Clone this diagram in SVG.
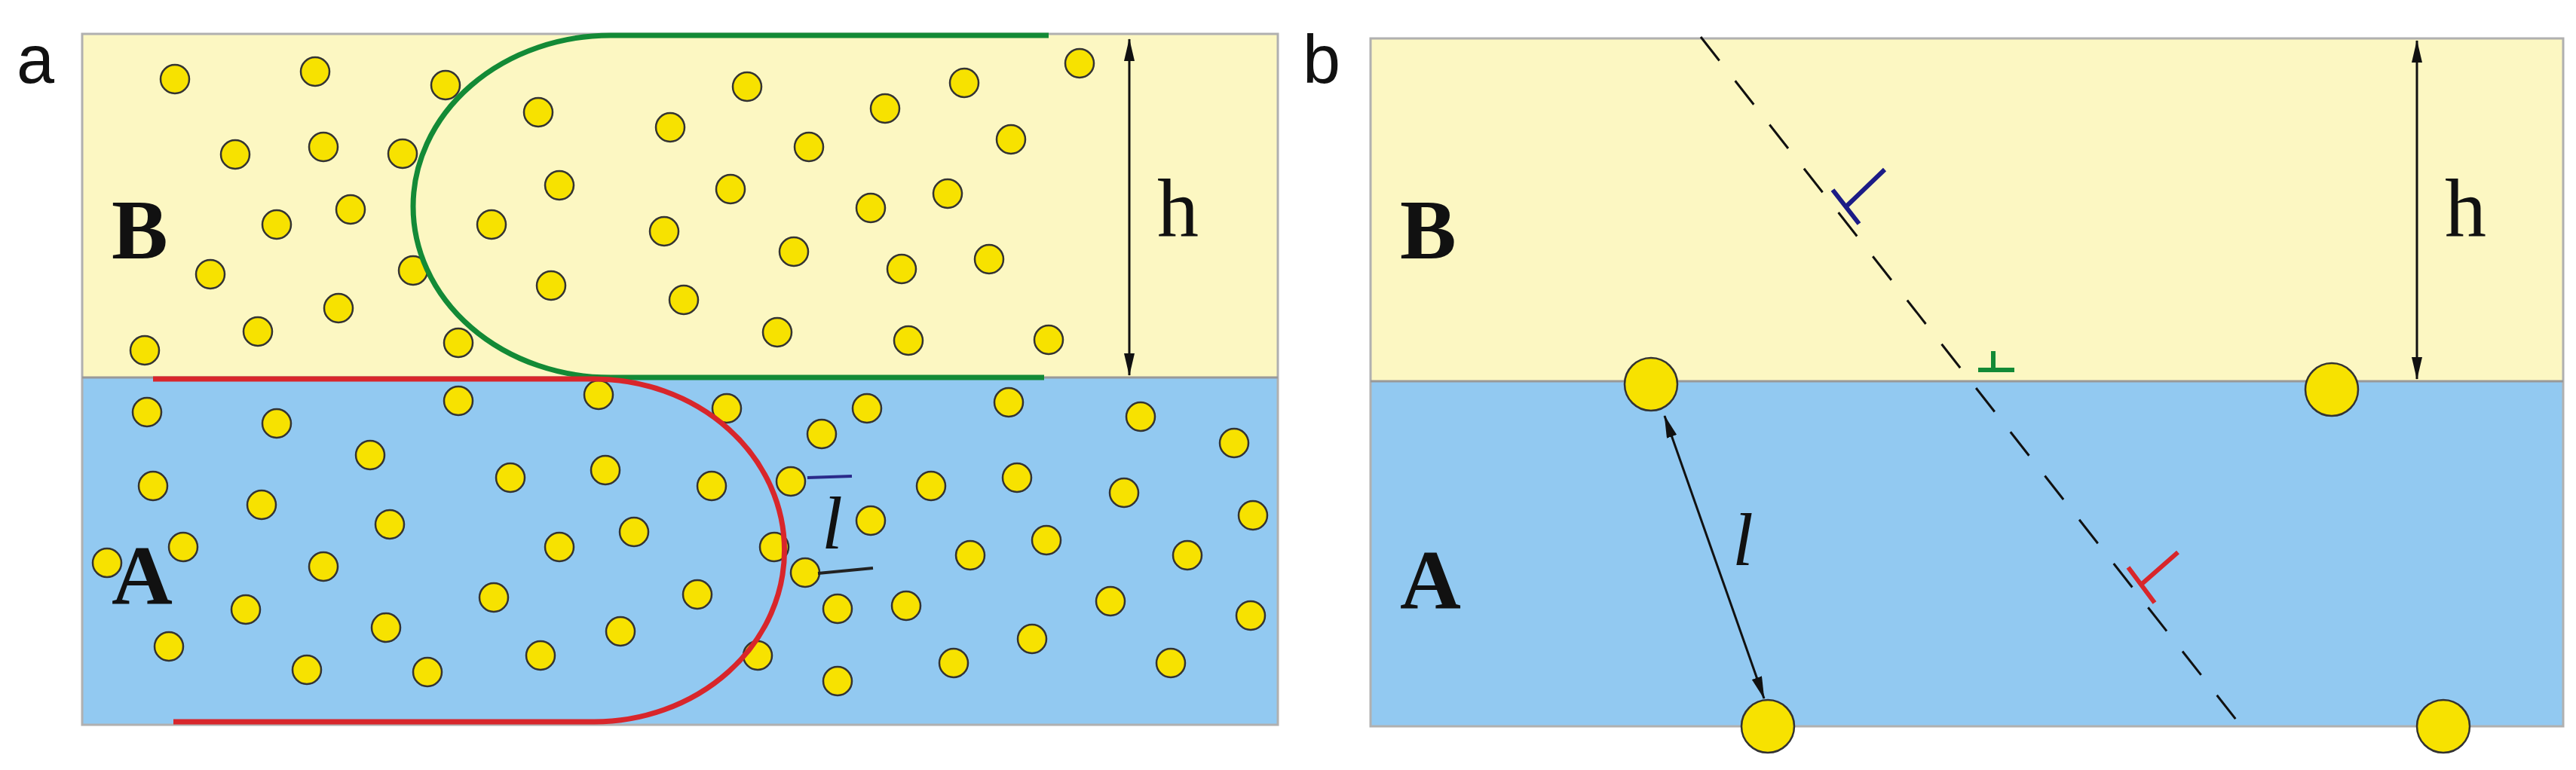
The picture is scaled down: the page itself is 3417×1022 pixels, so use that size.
<svg xmlns="http://www.w3.org/2000/svg" width="3417" height="1022" viewBox="0 0 3417 1022">
<style>
.lbl{font-family:"Liberation Sans",sans-serif;font-size:90px;fill:#111}
.ser{font-family:"Liberation Serif",serif;fill:#111}
.p{fill:#f7e200;stroke:#333;stroke-width:2.5}
.yb{fill:#fcf7c2}
.bb{fill:#92c9f1}
.ar{stroke:#111;stroke-width:3;fill:none}
</style>
<defs>
<marker id="ah" markerWidth="10" markerHeight="24" refX="9" refY="6" orient="auto" markerUnits="userSpaceOnUse" viewBox="0 0 10 12"><path d="M0,2 L10,6 L0,10 Z" fill="#111"/></marker>
<marker id="ah2" viewBox="0 0 30 14" refX="29" refY="7" markerWidth="30" markerHeight="14" orient="auto-start-reverse" markerUnits="userSpaceOnUse"><path d="M0,0 L30,7 L0,14 Z" fill="#111"/></marker>
</defs>
<rect width="3417" height="1022" fill="#fff"/>
<g id="panel-a">
<text class="lbl" x="22" y="110">a</text>
<rect class="yb" x="109" y="45" width="1586" height="456"/>
<rect class="bb" x="109" y="501" width="1586" height="461"/>
<rect x="109" y="45" width="1586" height="917" fill="none" stroke="#b0b0b0" stroke-width="3"/>
<line x1="109" y1="501" x2="1695" y2="501" stroke="#999" stroke-width="3"/>
<g id="particles-a">
<circle class="p" cx="232" cy="105" r="19"/><circle class="p" cx="418" cy="95" r="19"/><circle class="p" cx="591" cy="113" r="19"/><circle class="p" cx="1432" cy="84" r="19"/><circle class="p" cx="991" cy="115" r="19"/><circle class="p" cx="1279" cy="110" r="19"/><circle class="p" cx="714" cy="149" r="19"/><circle class="p" cx="1174" cy="144" r="19"/><circle class="p" cx="889" cy="169" r="19"/><circle class="p" cx="312" cy="205" r="19"/><circle class="p" cx="429" cy="195" r="19"/><circle class="p" cx="534" cy="204" r="19"/><circle class="p" cx="1073" cy="195" r="19"/><circle class="p" cx="1341" cy="185" r="19"/><circle class="p" cx="742" cy="246" r="19"/><circle class="p" cx="969" cy="251" r="19"/><circle class="p" cx="1257" cy="257" r="19"/><circle class="p" cx="465" cy="278" r="19"/><circle class="p" cx="367" cy="298" r="19"/><circle class="p" cx="652" cy="298" r="19"/><circle class="p" cx="1155" cy="276" r="19"/><circle class="p" cx="881" cy="307" r="19"/><circle class="p" cx="548" cy="359" r="19"/><circle class="p" cx="279" cy="364" r="19"/><circle class="p" cx="1053" cy="334" r="19"/><circle class="p" cx="1196" cy="357" r="19"/><circle class="p" cx="1312" cy="344" r="19"/><circle class="p" cx="731" cy="379" r="19"/><circle class="p" cx="449" cy="409" r="19"/><circle class="p" cx="907" cy="398" r="19"/><circle class="p" cx="342" cy="440" r="19"/><circle class="p" cx="608" cy="455" r="19"/><circle class="p" cx="1031" cy="441" r="19"/><circle class="p" cx="1205" cy="452" r="19"/><circle class="p" cx="1391" cy="451" r="19"/><circle class="p" cx="192" cy="465" r="19"/>
<circle class="p" cx="195" cy="547" r="19"/><circle class="p" cx="608" cy="532" r="19"/><circle class="p" cx="794" cy="524" r="19"/><circle class="p" cx="964" cy="542" r="19"/><circle class="p" cx="1150" cy="542" r="19"/><circle class="p" cx="1338" cy="534" r="19"/><circle class="p" cx="1513" cy="553" r="19"/><circle class="p" cx="367" cy="562" r="19"/><circle class="p" cx="1090" cy="576" r="19"/><circle class="p" cx="1637" cy="588" r="19"/><circle class="p" cx="491" cy="604" r="19"/><circle class="p" cx="803" cy="624" r="19"/><circle class="p" cx="203" cy="645" r="19"/><circle class="p" cx="677" cy="634" r="19"/><circle class="p" cx="944" cy="645" r="19"/><circle class="p" cx="1049" cy="639" r="19"/><circle class="p" cx="1235" cy="645" r="19"/><circle class="p" cx="1349" cy="634" r="19"/><circle class="p" cx="1491" cy="654" r="19"/><circle class="p" cx="347" cy="670" r="19"/><circle class="p" cx="517" cy="696" r="19"/><circle class="p" cx="1155" cy="691" r="19"/><circle class="p" cx="1662" cy="684" r="19"/><circle class="p" cx="841" cy="706" r="19"/><circle class="p" cx="1388" cy="717" r="19"/><circle class="p" cx="243" cy="726" r="19"/><circle class="p" cx="142" cy="747" r="19"/><circle class="p" cx="742" cy="726" r="19"/><circle class="p" cx="1027" cy="726" r="19"/><circle class="p" cx="1287" cy="737" r="19"/><circle class="p" cx="1575" cy="737" r="19"/><circle class="p" cx="429" cy="752" r="19"/><circle class="p" cx="1068" cy="760" r="19"/><circle class="p" cx="655" cy="793" r="19"/><circle class="p" cx="925" cy="789" r="19"/><circle class="p" cx="326" cy="809" r="19"/><circle class="p" cx="1111" cy="808" r="19"/><circle class="p" cx="1202" cy="804" r="19"/><circle class="p" cx="1473" cy="798" r="19"/><circle class="p" cx="1659" cy="817" r="19"/><circle class="p" cx="512" cy="833" r="19"/><circle class="p" cx="823" cy="838" r="19"/><circle class="p" cx="224" cy="858" r="19"/><circle class="p" cx="1369" cy="848" r="19"/><circle class="p" cx="1005" cy="870" r="19"/><circle class="p" cx="717" cy="870" r="19"/><circle class="p" cx="407" cy="889" r="19"/><circle class="p" cx="567" cy="892" r="19"/><circle class="p" cx="1265" cy="880" r="19"/><circle class="p" cx="1553" cy="880" r="19"/><circle class="p" cx="1111" cy="904" r="19"/>
</g>
<path d="M1391,47 H810 A262,227 0 0 0 810,501 H1385" fill="none" stroke="#138a36" stroke-width="7"/>
<path d="M203,503 H788 A252,227 0 0 1 788,958 H230" fill="none" stroke="#d8262b" stroke-width="7"/>
<line class="ar" x1="1498" y1="52" x2="1498" y2="498" marker-start="url(#ah2)" marker-end="url(#ah2)"/>
<text class="ser" x="1535" y="314" font-size="110">h</text>
<text class="ser" x="148" y="343" font-size="112" font-weight="bold">B</text>
<text class="ser" x="148" y="802" font-size="112" font-weight="bold">A</text>
<line x1="1071" y1="634" x2="1130" y2="632" stroke="#2a2a8a" stroke-width="4"/>
<line x1="1085" y1="761" x2="1158" y2="754" stroke="#222" stroke-width="4"/>
<text class="ser" x="1090" y="728" font-size="100" font-style="italic">l</text>
</g>
<g id="panel-b">
<text class="lbl" x="1728" y="110">b</text>
<rect class="yb" x="1818" y="51" width="1582" height="455"/>
<rect class="bb" x="1818" y="506" width="1582" height="458"/>
<rect x="1818" y="51" width="1582" height="913" fill="none" stroke="#b0b0b0" stroke-width="3"/>
<line x1="1818" y1="506" x2="3400" y2="506" stroke="#999" stroke-width="3"/>
<line x1="2256" y1="49" x2="2973" y2="964" stroke="#111" stroke-width="3" stroke-dasharray="40,34"/>
<g id="particles-b">
<circle class="p" cx="2190" cy="510" r="35"/><circle class="p" cx="3093" cy="517" r="35"/><circle class="p" cx="2345" cy="964" r="35"/><circle class="p" cx="3241" cy="964" r="35"/>
</g>
<g fill="none" stroke-width="6">
<path d="M2431,252 L2466,297 M2449,274 L2500,225" stroke="#1c1c86"/>
<path d="M2644,466 V491 M2624,491 H2672" stroke="#138a36"/>
<path d="M2823,753 L2858,800 M2840,776 L2889,733" stroke="#d8262b"/>
</g>
<line class="ar" x1="3206" y1="54" x2="3206" y2="503" marker-start="url(#ah2)" marker-end="url(#ah2)"/>
<text class="ser" x="3243" y="314" font-size="110">h</text>
<text class="ser" x="1857" y="343" font-size="112" font-weight="bold">B</text>
<text class="ser" x="1857" y="808" font-size="112" font-weight="bold">A</text>
<line class="ar" x1="2208" y1="552" x2="2340" y2="927" marker-start="url(#ah2)" marker-end="url(#ah2)"/>
<text class="ser" x="2298" y="750" font-size="100" font-style="italic">l</text>
</g>
</svg>
